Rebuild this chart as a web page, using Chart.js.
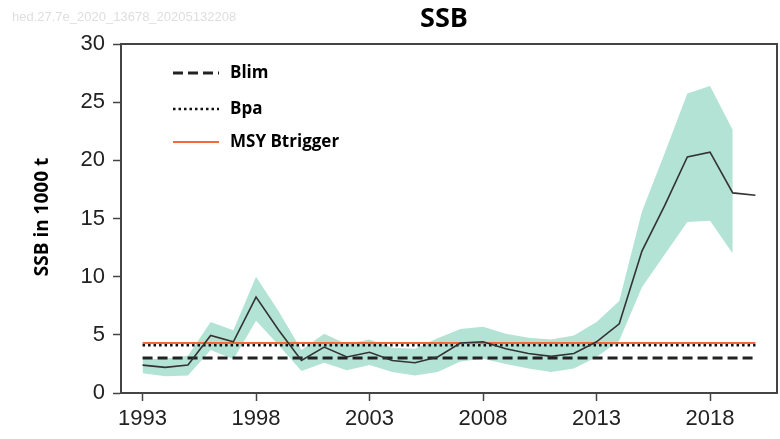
<!DOCTYPE html>
<html>
<head>
<meta charset="utf-8">
<script src="https://cdn.jsdelivr.net/npm/chart.js@4.4.1/dist/chart.umd.min.js"></script>
<style>
  html, body { margin: 0; padding: 0; background: #fff; }
  #chart { display: block; }
</style>
</head>
<body>
<canvas id="chart" width="780" height="439"></canvas>
<script>
// SSB (thousand tonnes) by year
const years = [1993, 1994, 1995, 1996, 1997, 1998, 1999, 2000, 2001, 2002, 2003, 2004, 2005, 2006,
               2007, 2008, 2009, 2010, 2011, 2012, 2013, 2014, 2015, 2016, 2017, 2018, 2019, 2020];
const ssb = [2.4, 2.2, 2.4, 4.95, 4.4, 8.25, 5.4, 2.8, 3.95, 3.1, 3.5, 2.8, 2.6, 3.1,
             4.3, 4.4, 3.8, 3.4, 3.15, 3.4, 4.4, 5.95, 12.2, 16.1, 20.3, 20.7, 17.2, 17.0];

// confidence band, 1993-2019
const bandYears = years.slice(0, 27);
const ssbHigh = [2.9, 2.95, 3.2, 6.1, 5.4, 10.0, 7.0, 3.7, 5.1, 4.2, 4.6, 3.9, 3.8, 4.7,
                 5.5, 5.7, 5.1, 4.75, 4.6, 4.95, 6.1, 7.9, 15.6, 20.6, 25.75, 26.4, 22.6];
const ssbLow = [1.7, 1.45, 1.5, 3.7, 2.9, 6.2, 4.1, 1.9, 2.6, 1.95, 2.4, 1.8, 1.5, 1.8,
                2.7, 2.95, 2.5, 2.1, 1.8, 2.1, 3.1, 4.5, 9.1, 11.9, 14.7, 14.8, 12.0];

// reference points
const refYears = [1993, 2020];
const blim = 3.0;
const bpa = 4.1;
const msyBtrigger = 4.3;

const xTicks = [1993, 1998, 2003, 2008, 2013, 2018];
const yTicks = [0, 5, 10, 15, 20, 25, 30];

const toXY = (xs, ys) => xs.map((x, i) => ({ x: x, y: ys[i] }));
const flat = v => refYears.map(x => ({ x: x, y: v }));

const decor = {
    id: 'decor',
    afterDraw(chart) {
        const ctx = chart.ctx;
        const area = chart.chartArea;
        ctx.save();

        // faint stamp in the corner
        ctx.fillStyle = '#dedede';
        ctx.font = '13px "Liberation Sans", Arial, sans-serif';
        ctx.textBaseline = 'middle';
        ctx.textAlign = 'left';
        ctx.fillText('hed.27.7e_2020_13678_20205132208', 12, 17);

        // title over the plot area
        ctx.fillStyle = '#000';
        ctx.font = 'bold 27px "Open Sans", sans-serif';
        ctx.textAlign = 'center';
        ctx.fillText('SSB', 444, 19);

        // y axis title
        ctx.save();
        ctx.translate(43, 217);
        ctx.rotate(-Math.PI / 2);
        ctx.font = 'bold 19px "Open Sans", sans-serif';
        ctx.fillText('SSB in 1000 t', 0, 0);
        ctx.restore();

        // top and right frame
        ctx.strokeStyle = '#444';
        ctx.lineWidth = 2;
        ctx.beginPath();
        ctx.moveTo(area.left, area.top);
        ctx.lineTo(area.right, area.top);
        ctx.lineTo(area.right, area.bottom);
        ctx.stroke();

        // legend inside the plot
        const items = ['Blim', 'Bpa', 'MSY Btrigger'];
        const rowsY = [73, 109, 142];
        ctx.textAlign = 'left';
        ctx.font = 'bold 17px "Open Sans", sans-serif';
        items.forEach((label, i) => {
            const ds = chart.data.datasets.find(d => d.label === label);
            ctx.strokeStyle = ds.borderColor;
            ctx.lineWidth = ds.borderWidth;
            ctx.setLineDash(ds.borderDash || []);
            ctx.beginPath();
            ctx.moveTo(173, rowsY[i]);
            ctx.lineTo(219, rowsY[i]);
            ctx.stroke();
            ctx.setLineDash([]);
            ctx.fillStyle = '#000';
            ctx.fillText(label, 230, rowsY[i]);
        });

        ctx.restore();
    }
};

const ctx = document.getElementById('chart').getContext('2d');

new Chart(ctx, {
    type: 'line',
    data: {
        datasets: [
            {
                label: 'SSB',
                data: toXY(years, ssb),
                borderColor: '#333',
                borderWidth: 1.6,
                fill: false
            },
            {
                label: 'Blim',
                data: flat(blim),
                borderColor: '#222',
                borderWidth: 3,
                borderDash: [10, 5],
                fill: false
            },
            {
                label: 'Bpa',
                data: flat(bpa),
                borderColor: '#111',
                borderWidth: 2.5,
                borderDash: [2.5, 3],
                fill: false
            },
            {
                label: 'MSY Btrigger',
                data: flat(msyBtrigger),
                borderColor: '#f26a3c',
                borderWidth: 2,
                fill: false
            },
            {
                label: 'high',
                data: toXY(bandYears, ssbHigh),
                borderWidth: 0,
                borderColor: 'rgba(0,0,0,0)',
                backgroundColor: '#b3e3d5',
                fill: '+1'
            },
            {
                label: 'low',
                data: toXY(bandYears, ssbLow),
                borderWidth: 0,
                borderColor: 'rgba(0,0,0,0)',
                fill: false
            }
        ]
    },
    options: {
        responsive: false,
        animation: false,
        devicePixelRatio: 1,
        layout: {
            padding: { top: 44, right: 3, left: 0, bottom: 0 }
        },
        elements: {
            point: { radius: 0 },
            line: { tension: 0 }
        },
        plugins: {
            legend: { display: false },
            tooltip: { enabled: false }
        },
        scales: {
            x: {
                type: 'linear',
                min: 1992.05,
                max: 2020.95,
                afterFit: scale => { scale.height = 46; },
                afterBuildTicks: scale => { scale.ticks = xTicks.map(v => ({ value: v })); },
                grid: {
                    drawOnChartArea: false,
                    drawTicks: true,
                    tickLength: 8,
                    tickWidth: 1.5,
                    tickColor: '#444'
                },
                border: { color: '#444', width: 2 },
                ticks: {
                    padding: 5,
                    color: '#222',
                    maxRotation: 0,
                    font: { family: '"Liberation Sans", Arial, sans-serif', size: 22 },
                    callback: v => String(v)
                }
            },
            y: {
                min: 0,
                max: 30,
                afterFit: scale => { scale.width = 121; },
                afterBuildTicks: scale => { scale.ticks = yTicks.map(v => ({ value: v })); },
                grid: {
                    drawOnChartArea: false,
                    drawTicks: true,
                    tickLength: 8,
                    tickWidth: 1.5,
                    tickColor: '#444'
                },
                border: { color: '#444', width: 2 },
                ticks: {
                    padding: 8,
                    color: '#222',
                    font: { family: '"Liberation Sans", Arial, sans-serif', size: 22 }
                }
            }
        }
    },
    plugins: [decor]
});
</script>
</body>
</html>
